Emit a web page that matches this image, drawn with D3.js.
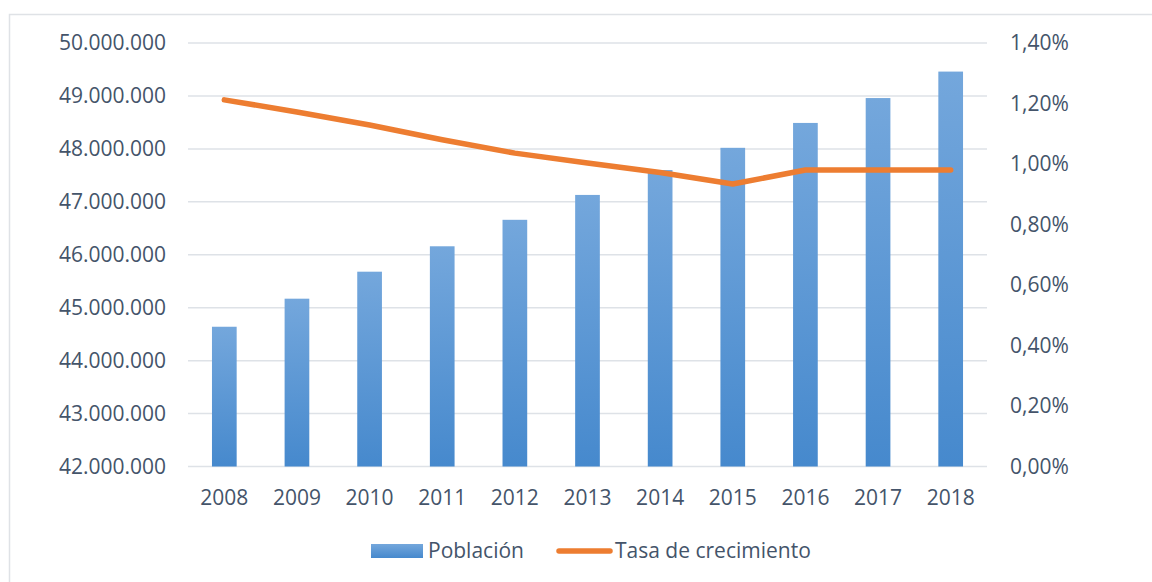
<!DOCTYPE html>
<html><head><meta charset="utf-8">
<script src="https://cdn.jsdelivr.net/npm/d3@7"></script>
<style>
body{margin:0;background:#fff;}
svg{display:block;font-family:"Open Sans",sans-serif;}
</style></head>
<body><svg id="c" width="1152" height="582"></svg>
<script>
const years = ["2008","2009","2010","2011","2012","2013","2014","2015","2016","2017","2018"];
const poblacion = [44640000,45170000,45680000,46160000,46660000,47130000,47600000,48020000,48490000,48960000,49460000];
const tasa = [0.01212,0.01172,0.01129,0.01080,0.01036,0.01003,0.00972,0.00934,0.00980,0.00980,0.00980];
const leftTicks = [42000000,43000000,44000000,45000000,46000000,47000000,48000000,49000000,50000000];
const rightTicks = [0,0.002,0.004,0.006,0.008,0.010,0.012,0.014];
const seriesNames = ["Población","Tasa de crecimiento"];

const svg = d3.select("#c");
const textColor = "#44546A";
const gridColor = "#dee2e7";
const fs = "21px";
const plot = {l:188, r:987, t:43, b:466.5};

// chart border
svg.append("rect").attr("x",9.5).attr("y",14.5).attr("width",1150).attr("height",580)
  .attr("fill","none").attr("stroke","#dfe2e6").attr("stroke-width",1.5);

const defs = svg.append("defs");
const grad = defs.append("linearGradient").attr("id","barGrad").attr("x1",0).attr("y1",0).attr("x2",0).attr("y2",1);
grad.append("stop").attr("offset","0%").attr("stop-color","#74a7dc");
grad.append("stop").attr("offset","100%").attr("stop-color","#4689cd");

const x = d3.scaleBand().domain(years).range([plot.l,plot.r]).paddingInner(0.66).paddingOuter(0.33);
const xc = d => x(d) + x.bandwidth()/2;
const yL = d3.scaleLinear().domain([42000000,50000000]).range([plot.b,plot.t]);
const yR = d3.scaleLinear().domain([0,0.014]).range([plot.b,plot.t]);

const fmtL = d3.formatLocale({decimal:",",thousands:".",grouping:[3],currency:["","€"]});
const fL = fmtL.format(",d");
const fR = v => fmtL.format(".2f")(v*100) + "%";

// gridlines
svg.append("g").selectAll("line").data(leftTicks).join("line")
  .attr("x1",plot.l).attr("x2",plot.r).attr("y1",d=>yL(d)).attr("y2",d=>yL(d))
  .attr("stroke",gridColor).attr("stroke-width",1.5);

// left axis
const axL = svg.append("g").attr("transform",`translate(${plot.l-22},0)`)
  .call(d3.axisLeft(yL).tickValues(leftTicks).tickFormat(fL).tickSize(0).tickPadding(0));
axL.select(".domain").remove();
axL.selectAll("text").attr("fill",textColor).style("font-size",fs).style("font-family","'Open Sans',sans-serif");

// right axis
const axR = svg.append("g").attr("transform",`translate(${plot.r+23},0)`)
  .call(d3.axisRight(yR).tickValues(rightTicks).tickFormat(fR).tickSize(0).tickPadding(0));
axR.select(".domain").remove();
axR.selectAll("text").attr("fill",textColor).style("font-size",fs).style("font-family","'Open Sans',sans-serif");

// bottom axis
const axB = svg.append("g").attr("transform",`translate(0,${plot.b+31})`)
  .call(d3.axisBottom(x).tickSize(0).tickPadding(0));
axB.select(".domain").remove();
axB.selectAll("text").attr("fill",textColor).attr("dy","0.35em").style("font-size",fs).style("font-family","'Open Sans',sans-serif");

// bars
svg.append("g").selectAll("rect").data(years).join("rect")
  .attr("x",d=>x(d)).attr("width",x.bandwidth())
  .attr("y",(d,i)=>yL(poblacion[i])).attr("height",(d,i)=>yL(42000000)-yL(poblacion[i]))
  .attr("fill","url(#barGrad)");

// line
const line = d3.line().x((d,i)=>xc(years[i])).y(d=>yR(d));
svg.append("path").datum(tasa).attr("d",line).attr("fill","none")
  .attr("stroke","#ED7D31").attr("stroke-width",5.5).attr("stroke-linecap","round").attr("stroke-linejoin","round");

// legend
const lg = svg.append("g");
lg.append("rect").attr("x",371).attr("y",544).attr("width",52).attr("height",14).attr("fill","url(#barGrad)");
lg.append("text").attr("x",428).attr("y",551).attr("dy","0.35em").attr("fill",textColor).style("font-size",fs).text(seriesNames[0]);
lg.append("line").attr("x1",559).attr("x2",610).attr("y1",551).attr("y2",551).attr("stroke","#ED7D31").attr("stroke-width",5.5).attr("stroke-linecap","round");
lg.append("text").attr("x",615).attr("y",551).attr("dy","0.35em").attr("fill",textColor).style("font-size",fs).text(seriesNames[1]);
</script></body></html>
